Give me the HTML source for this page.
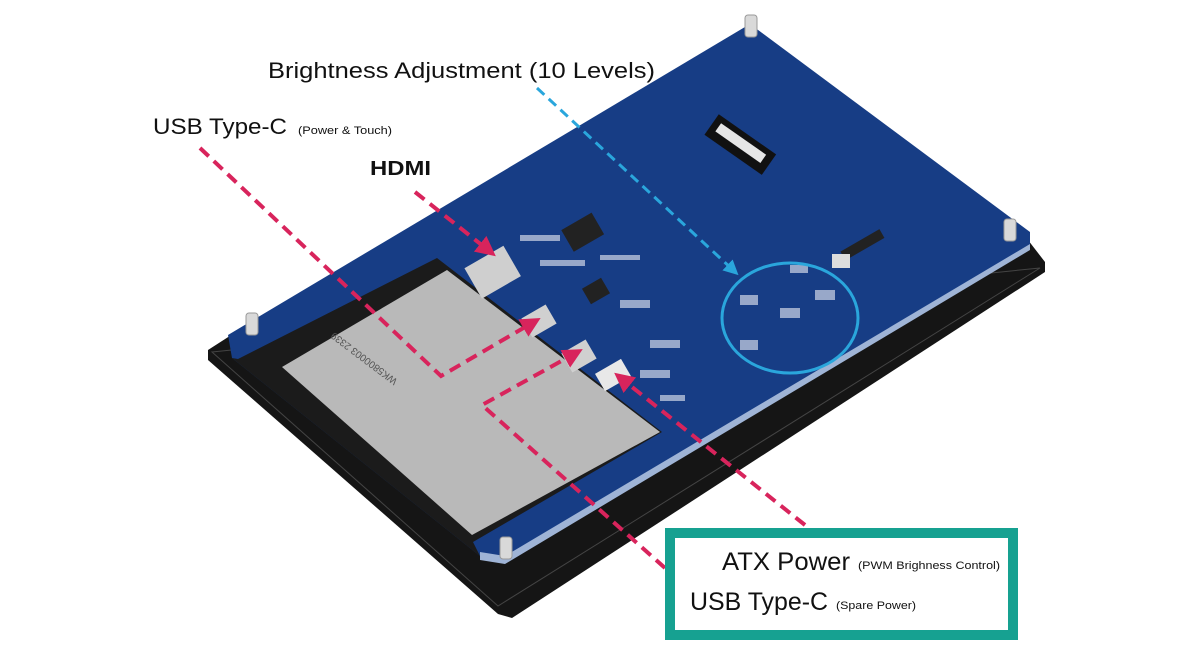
<!DOCTYPE html>
<html><head><meta charset="utf-8"><style>
html,body{margin:0;padding:0;background:#fff;}
svg{display:block;}
text{font-family:"Liberation Sans",sans-serif;fill:#111;}
</style></head><body>
<svg width="1200" height="660" viewBox="0 0 1200 660" xmlns="http://www.w3.org/2000/svg">
<defs>
<marker id="ar" markerWidth="5" markerHeight="5" refX="2.5" refY="2.5" orient="auto" markerUnits="strokeWidth"><path d="M0,0 L5,2.5 L0,5 z" fill="#d8245c"/></marker>
<marker id="ab" markerWidth="5" markerHeight="5" refX="2.5" refY="2.5" orient="auto" markerUnits="strokeWidth"><path d="M0,0 L5,2.5 L0,5 z" fill="#2aa6dc"/></marker>
</defs>
<polygon points="208,350 236,332 1028,240 1045,262 1045,272 512,618 498,614 208,360" fill="#151515"/>
<polygon points="212,352 498,606 1040,268" fill="none" stroke="#444" stroke-width="1"/>
<polygon points="228,335 750,24 1030,232 1030,246 505,560 480,556 232,358" fill="#173d85"/>
<polygon points="480,552 505,556 1030,244 1030,250 505,564 480,560" fill="#9fb4d6"/>
<polygon points="232,358 238,359 437,258 662,432 473,542 480,556" fill="#1b1b1b"/>
<polygon points="282,367 447,270 660,432 472,535" fill="#b9b9b9"/>
<text x="0" y="0" transform="translate(398,380) rotate(37) scale(-1,-1)" font-size="10" style="fill:#555">WK5800003 2339</text>
<rect x="470" y="255" width="45" height="35" fill="#cfcfcf" transform="rotate(-30 492 272)"/>
<rect x="525" y="310" width="28" height="22" fill="#d0d0d0" transform="rotate(-30 539 321)"/>
<rect x="565" y="345" width="28" height="22" fill="#d0d0d0" transform="rotate(-30 579 356)"/>
<rect x="598" y="365" width="30" height="20" fill="#e8e8e8" transform="rotate(-30 613 375)"/>
<rect x="565" y="220" width="35" height="25" fill="#222" transform="rotate(-30 582 232)"/>
<rect x="585" y="282" width="22" height="18" fill="#222" transform="rotate(-30 596 291)"/>
<rect x="705" y="132" width="70" height="25" fill="#111" transform="rotate(35 740 145)"/>
<rect x="712" y="138" width="55" height="10" fill="#e6e6e6" transform="rotate(35 740 145)"/>
<rect x="840" y="240" width="45" height="10" fill="#222" transform="rotate(-30 862 245)"/>
<rect x="832" y="254" width="18" height="14" fill="#ddd"/>
<g fill="#cfd6e6" opacity="0.7">
<rect x="520" y="235" width="40" height="6"/><rect x="540" y="260" width="45" height="6"/><rect x="600" y="255" width="40" height="5"/><rect x="620" y="300" width="30" height="8"/><rect x="650" y="340" width="30" height="8"/><rect x="640" y="370" width="30" height="8"/><rect x="660" y="395" width="25" height="6"/>
<rect x="780" y="308" width="20" height="10"/><rect x="815" y="290" width="20" height="10"/><rect x="740" y="340" width="18" height="10"/><rect x="740" y="295" width="18" height="10"/><rect x="790" y="265" width="18" height="8"/>
</g>
<g fill="#d9d9d9" stroke="#999" stroke-width="1">
<rect x="246" y="313" width="12" height="22" rx="3"/><rect x="500" y="537" width="12" height="22" rx="3"/>
<rect x="745" y="15" width="12" height="22" rx="3"/><rect x="1004" y="219" width="12" height="22" rx="3"/>
</g>
<ellipse cx="790" cy="318" rx="68" ry="55" fill="none" stroke="#2aa6dc" stroke-width="3"/>
<polyline points="537,88 733,270" fill="none" stroke="#2aa6dc" stroke-width="3" stroke-dasharray="10,6" marker-end="url(#ab)"/>
<g fill="none" stroke="#d8245c" stroke-width="4" stroke-dasharray="12,7">
<polyline points="200,148 441,376 532,323" marker-end="url(#ar)"/>
<polyline points="415,192 488,250" marker-end="url(#ar)"/>
<polyline points="665,568 482,405 574,354" marker-end="url(#ar)"/>
<polyline points="805,525 622,379" marker-end="url(#ar)"/>
</g>
<text x="268" y="78" font-size="22" textLength="387" lengthAdjust="spacingAndGlyphs">Brightness Adjustment (10 Levels)</text>
<text x="153" y="134" font-size="22" textLength="134" lengthAdjust="spacingAndGlyphs">USB Type-C</text>
<text x="298" y="134" font-size="11" textLength="94" lengthAdjust="spacingAndGlyphs">(Power &amp; Touch)</text>
<text x="370" y="175" font-size="20" font-weight="bold" textLength="61" lengthAdjust="spacingAndGlyphs">HDMI</text>
<rect x="670" y="533" width="343" height="102" fill="#fff" stroke="#16a191" stroke-width="10"/>
<text x="722" y="570" font-size="25" textLength="128" lengthAdjust="spacingAndGlyphs">ATX Power</text>
<text x="858" y="569" font-size="11" textLength="142" lengthAdjust="spacingAndGlyphs">(PWM Brighness Control)</text>
<text x="690" y="610" font-size="25" textLength="138" lengthAdjust="spacingAndGlyphs">USB Type-C</text>
<text x="836" y="609" font-size="11" textLength="80" lengthAdjust="spacingAndGlyphs">(Spare Power)</text>
</svg>
</body></html>
